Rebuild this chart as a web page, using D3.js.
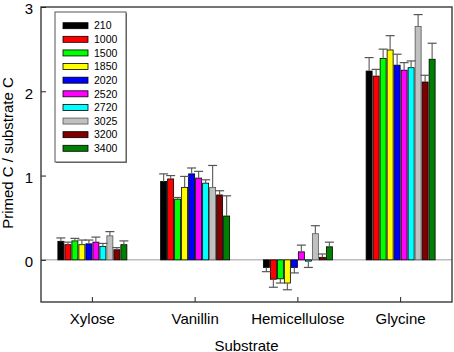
<!DOCTYPE html>
<html>
<head>
<meta charset="utf-8">
<script src="https://cdn.jsdelivr.net/npm/d3@7"></script>
<style>
  body { margin: 0; background: #fff; }
  svg { font-family: "Liberation Sans", Arial, sans-serif; }
</style>
</head>
<body>
<svg id="chart" width="454" height="352"></svg>
<script>
// substrates on the x axis
const categories = ['Xylose', 'Vanillin', 'Hemicellulose', 'Glycine'];
// legend series
const series = ['210', '1000', '1500', '1850', '2020', '2520', '2720', '3025', '3200', '3400'];
const colors = ['#000000', '#ff0000', '#00ff00', '#ffff00', '#0000ff', '#ff00ff', '#00ffff', '#c0c0c0', '#800000', '#008000'];

// primed C per substrate, one value per series
const xyloseVals = [0.22, 0.18, 0.225, 0.18, 0.19, 0.21, 0.16, 0.285, 0.12, 0.18];
const vanillinVals = [0.93, 0.96, 0.72, 0.86, 1.02, 0.97, 0.91, 0.86, 0.77, 0.52];
const hemiVals = [-0.09, -0.23, -0.225, -0.275, -0.09, 0.095, -0.015, 0.31, 0.03, 0.155];
const glycineVals = [2.24, 2.18, 2.39, 2.49, 2.31, 2.25, 2.28, 2.77, 2.11, 2.38];

// error bars
const xyloseErr = [0.04, 0.03, 0.03, 0.055, 0.045, 0.06, 0.035, 0.05, 0.025, 0.045];
const vanillinErr = [0.09, 0.04, 0.02, 0.13, 0.07, 0.08, 0.04, 0.26, 0.05, 0.24];
const hemiErr = [0.05, 0.095, 0.05, 0.08, 0.065, 0.08, 0.075, 0.095, 0.04, 0.055];
const glycineErr = [0.16, 0.08, 0.11, 0.17, 0.13, 0.09, 0.08, 0.14, 0.08, 0.19];

const yTicks = [0, 1, 2, 3];

const allVals = [xyloseVals, vanillinVals, hemiVals, glycineVals];
const allErr = [xyloseErr, vanillinErr, hemiErr, glycineErr];
const data = [];
categories.forEach((c, i) => {
  series.forEach((s, j) => {
    data.push({ cat: c, key: s, value: allVals[i][j], err: allErr[i][j], color: colors[j] });
  });
});

const margin = { top: 7, right: 2, bottom: 50, left: 41 };
const width = 454, height = 352;
const svg = d3.select('#chart');

const x = d3.scaleBand().domain(categories).range([margin.left, width - margin.right]).padding(0);
const groupW = 70;
const xInner = d3.scaleBand().domain(series).range([0, groupW]).padding(0);
const y = d3.scaleLinear().domain([-0.5, 3]).range([height - margin.bottom, margin.top]);

// zero line
svg.append('line')
  .attr('x1', margin.left).attr('x2', width - margin.right)
  .attr('y1', y(0)).attr('y2', y(0))
  .attr('stroke', '#9a9a9a').attr('stroke-width', 1);

const gx = (d) => x(d.cat) + (x.bandwidth() - groupW) / 2 + xInner(d.key);

// bars
svg.selectAll('.bar')
  .data(data)
  .join('rect')
  .attr('class', 'bar')
  .attr('x', d => gx(d) + 0.5)
  .attr('width', xInner.bandwidth() - 1)
  .attr('y', d => Math.min(y(d.value), y(0)))
  .attr('height', d => Math.abs(y(d.value) - y(0)))
  .attr('fill', d => d.color)
  .attr('stroke', d => d.key === '3025' ? '#555' : '#000')
  .attr('stroke-width', 0.8);

// error bars, drawn away from zero
const errEnd = d => y(d.value + (d.value < 0 ? -d.err : d.err));
svg.selectAll('.err')
  .data(data)
  .join('line')
  .attr('class', 'err')
  .attr('x1', d => gx(d) + xInner.bandwidth() / 2)
  .attr('x2', d => gx(d) + xInner.bandwidth() / 2)
  .attr('y1', d => y(d.value))
  .attr('y2', errEnd)
  .attr('stroke', '#666').attr('stroke-width', 1.2);

svg.selectAll('.cap')
  .data(data)
  .join('line')
  .attr('class', 'cap')
  .attr('x1', d => gx(d) + xInner.bandwidth() / 2 - 4.5)
  .attr('x2', d => gx(d) + xInner.bandwidth() / 2 + 4.5)
  .attr('y1', errEnd)
  .attr('y2', errEnd)
  .attr('stroke', '#555').attr('stroke-width', 1.2);

// frame
svg.append('rect')
  .attr('x', margin.left).attr('y', margin.top)
  .attr('width', width - margin.right - margin.left)
  .attr('height', height - margin.bottom - margin.top)
  .attr('fill', 'none').attr('stroke', '#3a3a3a').attr('stroke-width', 1.4);

// y axis
const yAxis = d3.axisLeft(y).tickValues(yTicks).tickFormat(d3.format('d'))
  .tickSizeInner(-5).tickSizeOuter(0).tickPadding(8);
const gy = svg.append('g').attr('transform', `translate(${margin.left},0)`).call(yAxis);
gy.select('.domain').remove();
gy.selectAll('line').attr('stroke', '#222');
gy.selectAll('text').attr('font-size', 15).attr('dy', '0.45em').attr('fill', '#000')
  .attr('font-family', '"Liberation Sans", Arial, sans-serif');

// x axis
const xAxis = d3.axisBottom(x).tickSizeInner(-5).tickSizeOuter(0).tickPadding(11);
const gxAxis = svg.append('g').attr('transform', `translate(0,${height - margin.bottom})`).call(xAxis);
gxAxis.select('.domain').remove();
gxAxis.selectAll('line').attr('stroke', '#222');
gxAxis.selectAll('text').attr('font-size', 15).attr('fill', '#000')
  .attr('font-family', '"Liberation Sans", Arial, sans-serif');

// axis titles
svg.append('text')
  .attr('x', (margin.left + width - margin.right) / 2)
  .attr('y', 350.5)
  .attr('text-anchor', 'middle')
  .attr('font-size', 15)
  .text('Substrate');

svg.append('text')
  .attr('transform', 'rotate(-90)')
  .attr('x', -153)
  .attr('y', 13)
  .attr('text-anchor', 'middle')
  .attr('font-size', 15)
  .text('Primed C / substrate C');

// legend
const legend = svg.append('g');
legend.append('rect')
  .attr('x', 56).attr('y', 13).attr('width', 71).attr('height', 150)
  .attr('fill', '#777');
legend.append('rect')
  .attr('x', 55).attr('y', 12).attr('width', 71).attr('height', 150)
  .attr('fill', '#fff').attr('stroke', '#555').attr('stroke-width', 1);

const rowY = d3.scalePoint().domain(series).range([25.7, 148.3]);
legend.selectAll('.sw')
  .data(series)
  .join('rect')
  .attr('class', 'sw')
  .attr('x', 63).attr('y', d => rowY(d) - 3)
  .attr('width', 25).attr('height', 6)
  .attr('fill', (d, i) => colors[i])
  .attr('stroke', (d, i) => i === 7 ? '#555' : '#000').attr('stroke-width', 0.8);

legend.selectAll('.lt')
  .data(series)
  .join('text')
  .attr('class', 'lt')
  .attr('x', 94).attr('y', d => rowY(d))
  .attr('dy', '0.36em')
  .attr('font-size', 10.5)
  .text(d => d);
</script>
</body>
</html>
